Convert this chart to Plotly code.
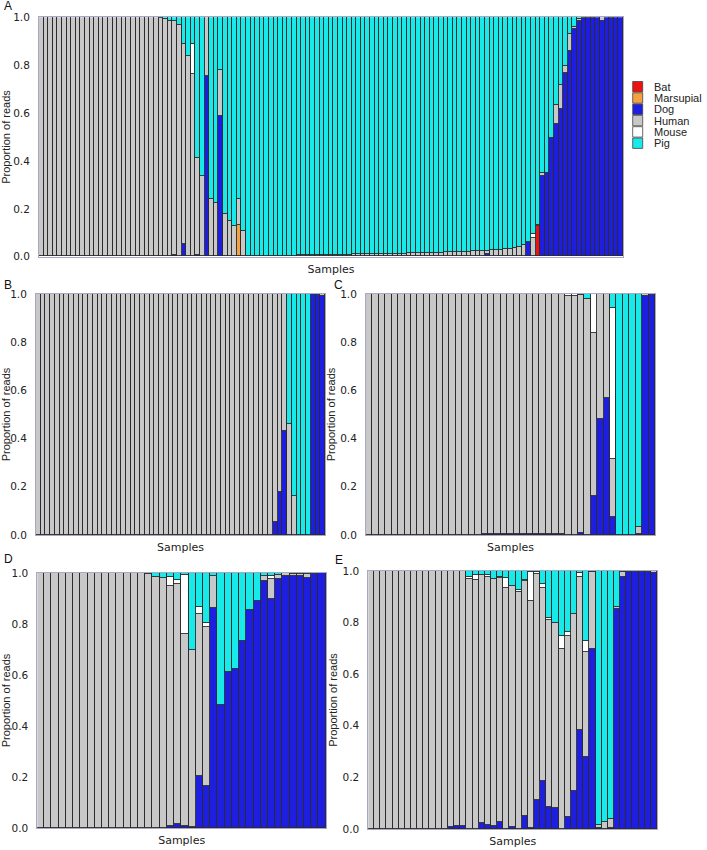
import plotly.graph_objects as go

W, H = 707, 850

SPECIES = ["Bat", "Marsupial", "Dog", "Human", "Mouse", "Pig"]
COLORS = ["#ee1111", "#f5a142", "#1e1ee0", "#c8c8c8", "#ffffff", "#18eaea"]
TICK_VALS = [0.0, 0.2, 0.4, 0.6, 0.8, 1.0]
TICK_TEXT = ["0.0", "0.2", "0.4", "0.6", "0.8", "1.0"]

# ---------------- Panel A (127 samples) ----------------
N_A = 127
A_human = ([1.0] * 26 +
           [0.995, 0.99, 0.985, 0.978, 0.968, 0.837, 0.836, 0.76, 0.403, 0.334,
            0.248, 0.24, 0.223, 0.189, 0.177, 0.146, 0.128, 0.11, 0.107] +
           [0.001, 0.001, 0.001, 0.002, 0.002, 0.002, 0.002, 0.003, 0.003, 0.003, 0.003,
            0.004, 0.004, 0.004, 0.005, 0.005, 0.005, 0.006, 0.006, 0.006, 0.007,
            0.007, 0.007, 0.008, 0.008, 0.008, 0.009, 0.009, 0.010, 0.010, 0.010,
            0.011, 0.011, 0.012, 0.012, 0.013, 0.013, 0.014, 0.014, 0.015, 0.015,
            0.016, 0.016, 0.017, 0.017, 0.018, 0.019, 0.020, 0.020, 0.021, 0.022,
            0.023, 0.015, 0.025, 0.027, 0.028, 0.030, 0.032, 0.035, 0.038, 0.049] +
           [0.0, 0.076, 0.005, 0.014, 0.0, 0.0, 0.08, 0.10, 0.031, 0.069,
            0.009, 0.008, 0.004, 0.005, 0.005, 0.0, 0.018, 0.0, 0.003, 0.002, 0.0])
A_dog = {29: 0.007, 31: 0.05, 34: 0.007, 36: 0.752, 39: 0.588, 97: 0.008, 106: 0.06,
         109: 0.334, 110: 0.35, 111: 0.494, 112: 0.554, 113: 0.617, 114: 0.766,
         115: 0.86, 116: 0.951, 117: 0.982, 118: 0.996, 119: 0.995, 120: 0.995,
         121: 1.0, 122: 0.982, 123: 1.0, 124: 0.997, 125: 0.998, 126: 1.0}
A_mouse = {33: 0.127, 107: 0.017}
A_bat = {108: 0.125}
A_marsupial = {43: 0.13}

# ---------------- Panel B (61 samples) ----------------
N_B = 61
B_human = [1.0] * 50 + [0.945, 0.82, 0.57, 0.46, 0.16, 0.0, 0.0, 0.0, 0.0, 0.003, 0.01]
B_dog = {50: 0.055, 51: 0.18, 52: 0.43, 58: 1.0, 59: 0.997, 60: 0.99}
B_mouse = {}

# ---------------- Panel C (45 samples) ----------------
N_C = 45
C_human = ([1.0] * 18 +
           [0.997] * 12 +
           [0.995, 0.99, 0.992, 0.986, 0.98, 0.674, 0.52, 0.433, 0.242, 0.0,
            0.0, 0.0, 0.03, 0.01, 0.005])
C_dog = {18: 0.003, 19: 0.003, 20: 0.003, 21: 0.003, 22: 0.003, 23: 0.003, 24: 0.003,
         25: 0.003, 26: 0.003, 27: 0.003, 28: 0.003, 29: 0.003, 30: 0.005, 33: 0.008,
         35: 0.163, 36: 0.48, 37: 0.567, 38: 0.073, 42: 0.005, 43: 0.99, 44: 0.995}
C_mouse = {31: 0.01, 32: 0.008, 35: 0.163, 38: 0.625}

# ---------------- Panel D (40 samples) ----------------
N_D = 40
D_human = ([1.0] * 15 +
           [0.995, 0.985, 0.98, 0.941, 0.942, 0.752, 0.694, 0.635, 0.621, 0.124,
            0.0, 0.0, 0.0, 0.0, 0.0, 0.0, 0.02, 0.078, 0.015, 0.01,
            0.01, 0.008, 0.017, 0.0, 0.0])
D_dog = {18: 0.009, 19: 0.016, 20: 0.009, 21: 0.003, 22: 0.205, 23: 0.166, 24: 0.863,
         25: 0.484, 26: 0.612, 27: 0.624, 28: 0.735, 29: 0.856, 30: 0.891, 31: 0.967,
         32: 0.898, 33: 0.978, 34: 0.99, 35: 0.987, 36: 0.99, 37: 0.98, 38: 0.998, 39: 1.0}
D_mouse = {18: 0.033, 19: 0.016, 20: 0.232, 22: 0.027, 23: 0.016, 32: 0.014}

# ---------------- Panel E (47 samples) ----------------
N_E = 47
E_human = ([1.0] * 13 +
           [0.991, 0.99, 0.988, 0.969, 0.965, 0.963, 0.963, 0.955, 0.944, 0.933,
            0.934, 0.92, 0.91, 0.882, 0.878, 0.747, 0.723, 0.717, 0.696, 0.7,
            0.685, 0.594, 0.407, 0.3, 0.012, 0.028, 0.036, 0.011, 0.021, 0.0,
            0.005, 0.003, 0.004, 0.006])
E_dog = {13: 0.009, 14: 0.01, 15: 0.012, 18: 0.022, 19: 0.015, 20: 0.013, 21: 0.028,
         23: 0.008, 25: 0.05, 26: 0.003, 27: 0.112, 28: 0.186, 29: 0.087, 30: 0.083,
         32: 0.048, 33: 0.147, 34: 0.384, 35: 0.28, 36: 0.696, 37: 0.003, 39: 0.003,
         40: 0.851, 41: 0.975, 42: 0.997, 43: 0.995, 44: 0.995, 45: 0.996, 46: 0.994}
E_mouse = {16: 0.006, 17: 0.02, 19: 0.005, 21: 0.005, 22: 0.039, 24: 0.005, 25: 0.007,
           26: 0.11, 27: 0.005, 28: 0.015, 29: 0.007, 31: 0.052, 32: 0.017, 34: 0.015,
           35: 0.042}

PANELS = [
    # label, n, bat, marsupial, dog, human, mouse, pixel box (x0, y0, x1, y1)
    ("A", N_A, A_bat, A_marsupial, A_dog, A_human, A_mouse, (39, 17.3, 623, 256.7)),
    ("B", N_B, {}, {}, B_dog, B_human, B_mouse, (36, 294, 325, 535)),
    ("C", N_C, {}, {}, C_dog, C_human, C_mouse, (366, 294, 655, 535)),
    ("D", N_D, {}, {}, D_dog, D_human, D_mouse, (37.3, 573, 326, 828)),
    ("E", N_E, {}, {}, E_dog, E_human, E_mouse, (368.3, 571, 657.3, 829)),
]
LABEL_POS = {"A": (2, 6), "B": (2, 285), "C": (332, 285), "D": (2, 559), "E": (333, 560)}


def dense(n, sparse):
    return [sparse.get(i, 0.0) for i in range(n)]


fig = go.Figure()
layout = dict(
    width=W, height=H, margin=dict(l=0, r=0, t=0, b=0),
    paper_bgcolor="white", plot_bgcolor="white",
    barmode="stack", bargap=0, showlegend=False,
    font=dict(family="DejaVu Sans", size=10, color="#222"),
)
annotations = []
shapes = []

for k, (lab, n, bat, mars, dog, human, mouse, box) in enumerate(PANELS, start=1):
    assert len(human) == n, (lab, len(human))
    series = [dense(n, bat), dense(n, mars), dense(n, dog), list(human), dense(n, mouse)]
    pig = [max(0.0, 1.0 - sum(s[i] for s in series)) for i in range(n)]
    series.append(pig)
    xs = list(range(n))
    ax = "" if k == 1 else str(k)
    for name, col, vals in zip(SPECIES, COLORS, series):
        fig.add_trace(go.Bar(
            x=xs, y=vals, name=name, xaxis="x" + ax, yaxis="y" + ax,
            marker=dict(color=col, line=dict(color="#2b2b2b", width=0.9)),
            hovertemplate=name + ": %{y}<extra></extra>",
        ))
    x0, y0, x1, y1 = box
    layout["xaxis" + ax] = dict(
        domain=[x0 / W, x1 / W], range=[-0.5, n - 0.5], anchor="y" + ax,
        showticklabels=False, ticks="", showgrid=False, zeroline=False,
        showline=True, linecolor="#a8a8c4", linewidth=1, mirror=True,
        automargin=False,
        title=dict(text="Samples", font=dict(family="DejaVu Sans", size=11, color="#222"),
                   standoff=8),
    )
    layout["yaxis" + ax] = dict(
        domain=[1 - y1 / H, 1 - y0 / H], range=[0, 1], anchor="x" + ax,
        tickvals=TICK_VALS, ticktext=TICK_TEXT, showgrid=False, zeroline=False,
        showline=True, linecolor="#a8a8c4", linewidth=1, mirror=True,
        ticks="outside", ticklen=6, tickcolor="rgba(0,0,0,0)",
        tickfont=dict(family="DejaVu Sans", size=10.5, color="#222"),
        automargin=False,
        title=dict(text="Proportion of reads",
                   font=dict(family="Liberation Sans", size=11, color="#222"),
                   standoff=2),
    )
    lx, ly = LABEL_POS[lab]
    annotations.append(dict(
        text=lab, x=lx / W, y=1 - ly / H, xref="paper", yref="paper",
        xanchor="left", yanchor="middle", showarrow=False,
        font=dict(family="Liberation Sans", size=12, color="#111"),
    ))

# Legend (drawn manually to match compact spacing)
LEG_X, LEG_Y0, LEG_DY = 632.7, 86.7, 11.3
for i, (name, col) in enumerate(zip(SPECIES, COLORS)):
    cy = LEG_Y0 + i * LEG_DY
    shapes.append(dict(
        type="rect", xref="paper", yref="paper",
        x0=LEG_X / W, x1=(LEG_X + 10) / W,
        y0=1 - (cy + 5.2) / H, y1=1 - (cy - 5.2) / H,
        fillcolor=col, line=dict(color="#444", width=0.8),
    ))
    annotations.append(dict(
        text=name, x=(LEG_X + 19) / W, y=1 - cy / H, xref="paper", yref="paper",
        xanchor="left", yanchor="middle", showarrow=False,
        font=dict(family="Liberation Sans", size=11, color="#222"),
    ))

layout["annotations"] = annotations
layout["shapes"] = shapes
fig.update_layout(**layout)
fig.write_html("out.html", config={"displayModeBar": False},
               post_script="document.body.style.margin='0px';document.body.style.overflow='hidden';")
